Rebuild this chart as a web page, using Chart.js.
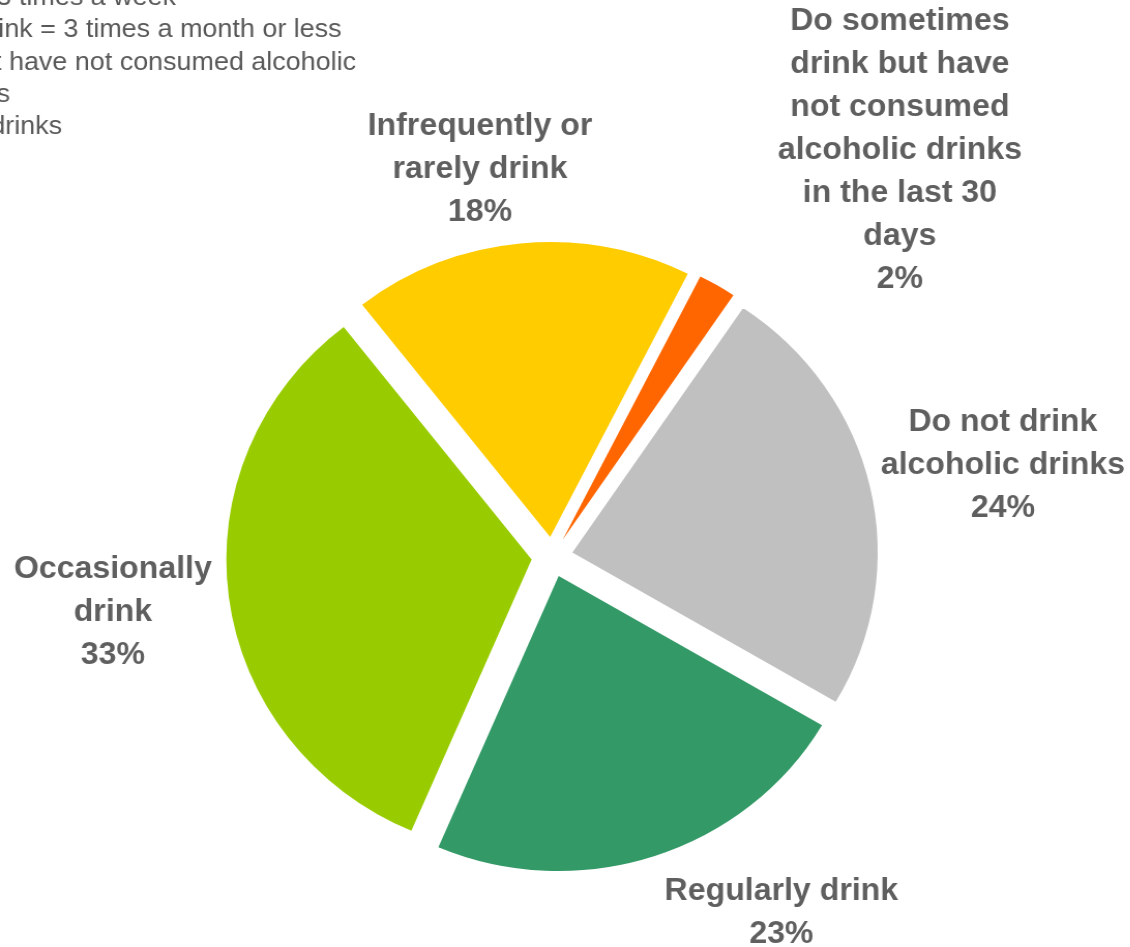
<!DOCTYPE html>
<html>
<head>
<meta charset="utf-8">
<script src="https://cdn.jsdelivr.net/npm/chart.js@4.4.1/dist/chart.umd.min.js"></script>
<style>
  html, body { margin: 0; padding: 0; background: #fff; overflow: hidden; }
  /* the chart is shown a little wider than tall */
  #stage { width: 1092px; height: 947px; transform: scaleX(1.035); transform-origin: 0 0; }
</style>
</head>
<body>
<div id="stage"><canvas id="drink-chart" width="1092" height="947"></canvas></div>
<script>
const categories = [
  ['Infrequently or', 'rarely drink'],
  ['Do sometimes', 'drink but have', 'not consumed', 'alcoholic drinks', 'in the last 30', 'days'],
  ['Do not drink', 'alcoholic drinks'],
  ['Regularly drink'],
  ['Occasionally', 'drink']
]
const shares = [18, 2, 24, 23, 33]
const sliceColors = ['#ffcc00', '#ff6600', '#c0c0c0', '#339966', '#99cc00']

const noteLines = [
  'Occasionally drink = 1-3 times a week',
  'Infrequently or rarely drink = 3 times a month or less',
  'Do sometimes drink but have not consumed alcoholic',
  'drinks in the last 30 days',
  'Do not drink alcoholic drinks'
]

// label block placement: [turn away from slice middle (deg), distance from pie centre (px)]
const labelSpots = [[-4.6, 394], [9.2, 527], [0.9, 445], [-13.7, 419], [0, 428]]
const LINE_H = 43
const EXPLODE = 20

// pull every slice outward along its middle, without growing the radius
const ArcEl = Chart.ArcElement || Chart.registry.getElement('arc')
const baseArcDraw = ArcEl.prototype.draw
ArcEl.prototype.draw = function (ctx) {
  const mid = (this.startAngle + this.endAngle) / 2
  ctx.save()
  ctx.translate(Math.cos(mid) * EXPLODE, Math.sin(mid) * EXPLODE)
  baseArcDraw.call(this, ctx)
  ctx.restore()
}

const sliceLabels = {
  id: 'sliceLabels',
  afterDatasetsDraw(chart) {
    const ctx = chart.ctx
    const arcs = chart.getDatasetMeta(0).data
    ctx.save()
    ctx.font = 'bold 31px "Liberation Sans", Arial, sans-serif'
    ctx.fillStyle = '#5f5f5f'
    ctx.textAlign = 'center'
    ctx.textBaseline = 'middle'
    arcs.forEach((arc, i) => {
      const [turn, dist] = labelSpots[i]
      const a = (arc.startAngle + arc.endAngle) / 2 + turn * Math.PI / 180
      const cx = arc.x + Math.cos(a) * dist
      const cy = arc.y + Math.sin(a) * dist
      const lines = [...categories[i], shares[i] + '%']
      const top = cy - (lines.length - 1) * LINE_H / 2
      lines.forEach((t, k) => ctx.fillText(t, cx, top + k * LINE_H))
    })
    ctx.restore()
  }
}

// definitions box, partly off the left edge
const notes = {
  id: 'notes',
  afterDraw(chart) {
    const ctx = chart.ctx
    const rightEdges = [170, 330, 344, 9.7, 60]
    ctx.save()
    ctx.font = '26px "Liberation Sans", Arial, sans-serif'
    ctx.fillStyle = '#595959'
    ctx.textAlign = 'right'
    ctx.textBaseline = 'middle'
    noteLines.forEach((t, k) => ctx.fillText(t, rightEdges[k], -2 + k * 32.2))
    ctx.restore()
  }
}

const drinkChart = new Chart(document.getElementById('drink-chart'), {
  type: 'pie',
  data: {
    labels: categories,
    datasets: [{
      data: shares,
      backgroundColor: sliceColors,
      borderWidth: 0
    }]
  },
  options: {
    responsive: false,
    animation: false,
    rotation: -38,
    radius: 295,
    layout: { padding: { left: 0, right: 25, top: 167, bottom: 0 } },
    plugins: {
      legend: { display: false },
      tooltip: { enabled: false }
    }
  },
  plugins: [sliceLabels, notes]
})
</script>
</body>
</html>
